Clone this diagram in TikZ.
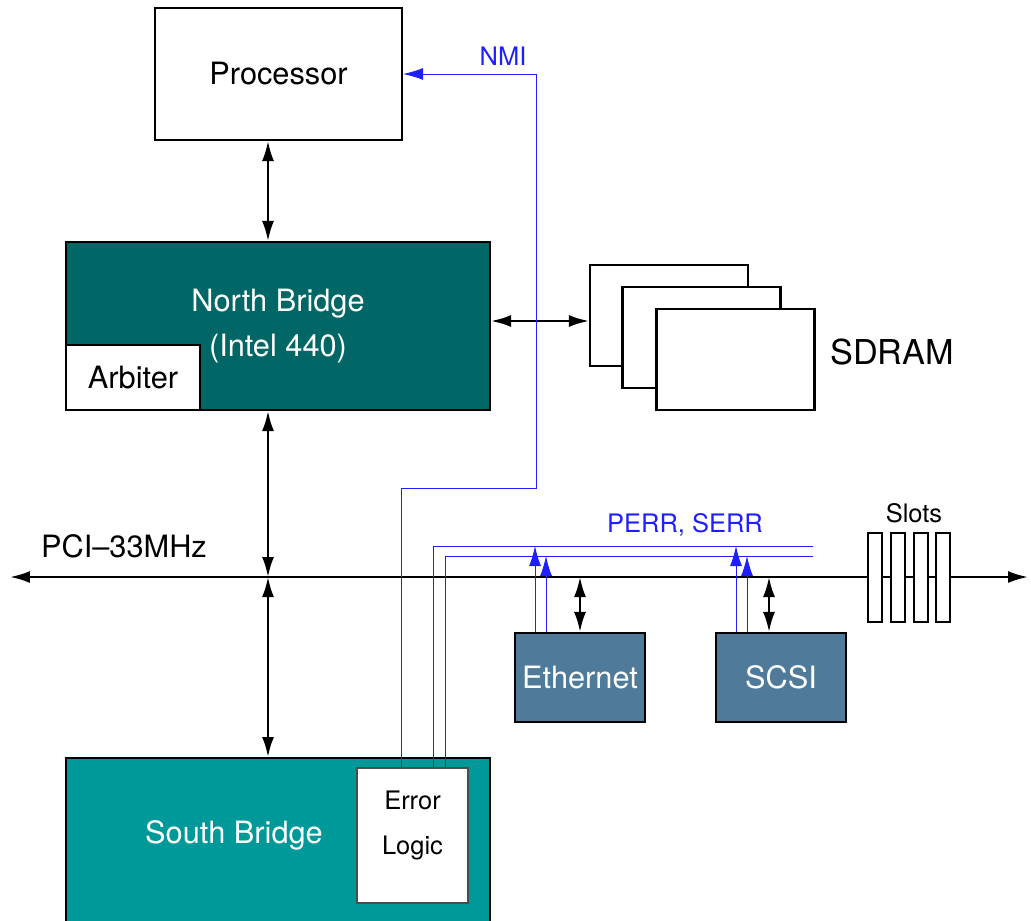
\documentclass[tikz,border=0pt]{standalone}
\usepackage{fontspec}
\setmainfont{TeX Gyre Heros}
\usetikzlibrary{arrows.meta,calc}

\definecolor{nbteal}{RGB}{0,102,102}
\definecolor{sbteal}{RGB}{0,153,153}
\definecolor{devblue}{RGB}{79,122,153}
\definecolor{sigblue}{RGB}{30,30,255}

\tikzset{
  box/.style={draw=black, line width=1.2pt, rectangle, inner sep=0pt},
  membox/.style={box, fill=white, minimum width=3.16cm, minimum height=2.02cm},
  devbox/.style={box, fill=devblue, text=white, big, minimum width=2.6cm, minimum height=1.78cm},
  slotbox/.style={box, fill=white, minimum width=0.28cm, minimum height=1.78cm},
  bus/.style={line width=1.3pt, black},
  sig/.style={line width=0.55pt, sigblue},
  big/.style={font=\fontsize{17.5}{26}\selectfont},
  small/.style={font=\fontsize{14.5}{25.6}\selectfont},
}

\begin{document}
\begin{tikzpicture}[x=0.02cm, y=-0.02cm, >={Latex[length=4mm,width=2.4mm]}]
\useasboundingbox (0,0) rectangle (1031,920);

% Processor and north bridge
\node[box, fill=white, minimum width=4.94cm, minimum height=2.64cm, big] (proc) at (278.5,74) {Processor};
\node[box, fill=nbteal, text=white, minimum width=8.48cm, minimum height=3.36cm, big, align=center] (nb) at (278,326) {North Bridge\\(Intel 440)};
\node[box, fill=white, minimum width=2.68cm, minimum height=1.3cm, big, anchor=south west] (arb) at (nb.south west) {Arbiter};

% SDRAM stack
\foreach \i/\x/\y in {1/669/315.5, 2/701.5/337.5, 3/735.5/359.5}
  \node[membox] (mem\i) at (\x,\y) {};
\node[font=\fontsize{19.5}{22}\selectfont] (memlbl) at (892,352) {SDRAM};

% South bridge
\node[box, fill=sbteal, minimum width=8.48cm, minimum height=3.6cm, anchor=north] (sb) at (278,757) {};
\node[big, text=white] (sbtxt) at (234,835) {South Bridge};
\node[box, fill=white, draw=gray!60!black, line width=1pt, minimum width=2.22cm, minimum height=2.7cm] (err) at (412.5,835.5) {};
\node[small, align=center] (errtxt) at (412.5,825.5) {Error\\Logic};

% PCI devices
\node[devbox] (eth) at (580,677.5) {Ethernet};
\node[devbox] (scsi) at (781,677.5) {SCSI};

% PCI bus
\coordinate (busL) at (10,577);
\coordinate (busR) at (1028,577);
\coordinate (tap) at (268,577);
\draw[bus,<->] (busL) -- (busR);
\node[big] (buslbl) at (124,546) {PCI--33MHz};
\foreach \i/\x in {1/875, 2/898, 3/921, 4/943}
  \node[slotbox] (slot\i) at (\x,577.5) {};
\node[small] (slotlbl) at (914,513) {Slots};

% black connections
\coordinate (memtap) at (590,321);
\draw[bus,<->] (proc.south -| tap) -- (nb.north -| tap);
\draw[bus,<->] (nb.south -| tap) -- (tap);
\draw[bus,<->] (tap) -- (sb.north -| tap);
\draw[bus,<->] (nb.east |- memtap) -- (mem1.west |- memtap);
\draw[bus,<->] (eth.north) -- (eth.north |- tap);
\draw[bus,<->] ($(scsi.north)+(-0.24cm,0)$) -- ($(scsi.north |- tap)+(-0.24cm,0)$);

% error signals
\coordinate (nmiA) at (401,488);
\coordinate (nmiB) at (536,488);
\draw[sig,->] (err.north -| nmiA) -- (nmiA) -- (nmiB) |- (proc.east);
\node[small, text=sigblue] (nmilbl) at (503,56) {NMI};

\coordinate (perrA) at (433,546);
\coordinate (perrB) at (813,546);
\coordinate (serrA) at (445,556);
\coordinate (serrB) at (813,556);
\draw[sig] (err.north -| perrA) -- (perrA) -- (perrB);
\draw[sig] (err.north -| serrA) -- (serrA) -- (serrB);
\node[small, text=sigblue] (errlbl) at (685,525) {PERR, SERR};

\foreach \dev in {eth,scsi} {
  \draw[sig,->] ($(\dev.north)+(-0.9cm,0)$) -- ($(\dev.north |- perrB)+(-0.9cm,0)$);
  \draw[sig,->] ($(\dev.north)+(-0.68cm,0)$) -- ($(\dev.north |- serrB)+(-0.68cm,0)$);
}

\end{tikzpicture}
\end{document}
